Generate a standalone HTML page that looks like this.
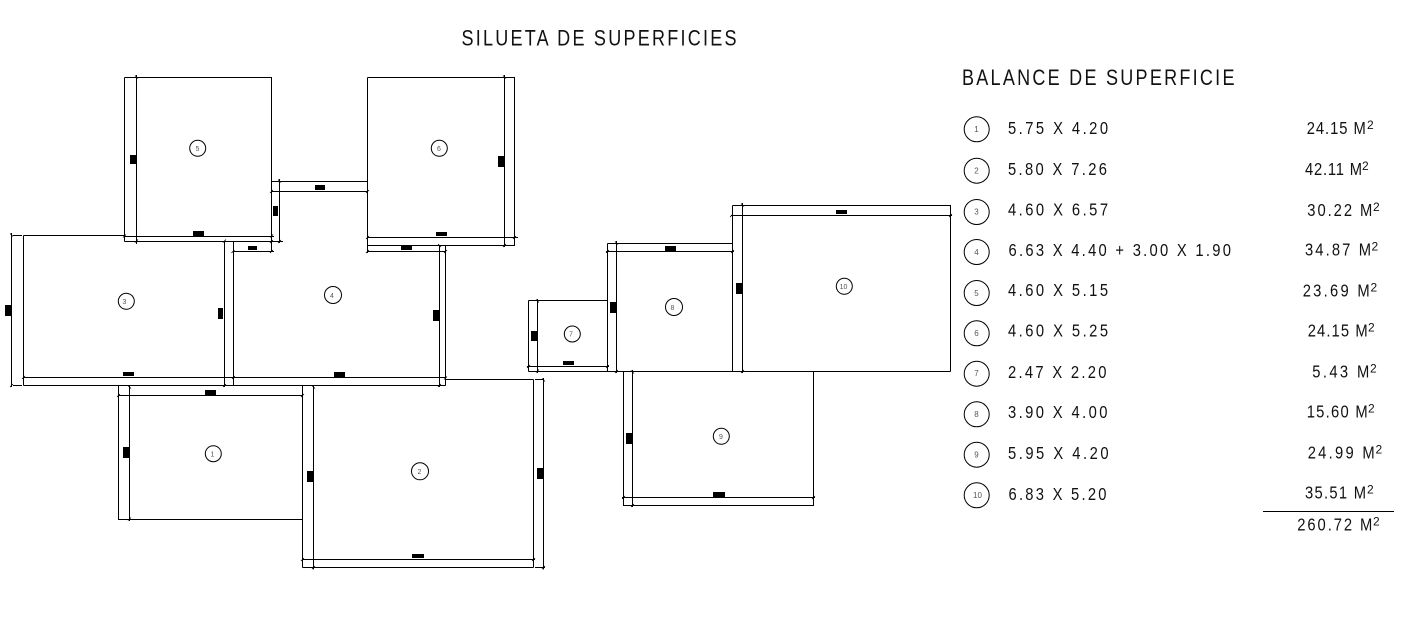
<!DOCTYPE html>
<html lang="es">
<head>
<meta charset="utf-8">
<title>Silueta de superficies</title>
<style>
html,body{margin:0;padding:0;background:#fff;width:1408px;height:625px;overflow:hidden}
svg{display:block}
.w{stroke:#000;stroke-width:1;fill:none;shape-rendering:crispEdges}
.t{stroke:#000;stroke-width:.8;fill:none}
.c{stroke:#000;stroke-width:1;fill:#fff}
.r{fill:#000;stroke:none;shape-rendering:crispEdges}
text{font-family:"Liberation Sans",sans-serif;fill:#111}
.h{font-size:22px}
.l{font-size:18px}
.s{font-size:12px}
.n{font-size:7px;text-anchor:middle;fill:#555}
.m{font-size:8px;text-anchor:middle;fill:#555}
</style>
</head>
<body>
<svg width="1408" height="625" viewBox="0 0 1408 625" xmlns="http://www.w3.org/2000/svg">
<rect width="1408" height="625" fill="#fff"/>

<path class="w" d="
M124.5 77.5H271.5V251.5 M124.5 77.5V241.5 M136.5 75V244
M124.5 236.5H274 M124.5 241.5H283
M271.5 181.5H367.5 M271.5 191.5H367.5 M279.5 179V243
M233 251.5H274
M367.5 77.5H514.5V245.5H367.5 M367.5 77.5V253 M504.5 75V247
M367.5 237.5H518 M367.5 251.5H445.5
M224.5 241.5V387 M233.5 241.5V385.5 M439.5 245.5V387 M445.5 245.5V385.5
M23.5 235.5H124.5 M23.5 235.5V385.5 M11.5 233V387 M13 235.5H22 M13 385.5H22
M23.5 377.5H445.5 M23.5 385.5H445.5
M118.5 385.5V519.5H302.5 M129.5 385.5V521 M118.5 395.5H302.5
M302.5 385.5V567.5 M313.5 385.5V569.5
M445.5 379.5H533.5 M535 379.5H543 M533.5 379.5V567.5 M543.5 378V569.5
M302.5 559.5H535 M302.5 567.5H533.5 M535 567.5H545
M528.5 300.5H607.5 M528.5 300.5V371.5 M537.5 299V373
M527 366.5H609 M528.5 371.5H607.5
M607.5 243.5H732.5 M607.5 243.5V371.5 M616.5 241V373 M606 251.5H734
M607.5 371.5H950.5
M732.5 205.5H950.5V371.5 M732.5 205.5V371.5 M742.5 203V373 M731 215.5H952
M623.5 371.5V505.5H813.5V371.5 M632.5 370V507 M622 497.5H815
M1263 511.5H1394"/>

<path class="t" d="
M135 75.500l3 3 M135 242.500l3 -3 M123 237.500l3 -3 M270 237.500l3 -3 M270 243l3 -3
M278 179.500l3 3 M278 243l3 -3 M270 193l3 -3 M366 193l3 -3
M231.500 253l3 -3 M270 253l3 -3 M223 242.500l3 -3
M366 239l3 -3 M366 253l3 -3 M503 75.500l3 3 M503 247l3 -3 M513 239l3 -3
M438 244l3 3 M444 253l3 -3 M444 379.500l3 -3 M438 387l3 -3
M10 233.500l3 3 M10 387l3 -3 M22 379l3 -3 M223 387l3 -3 M232 379l3 -3
M117 397l3 -3 M128 385.500l3 3 M128 520.500l3 -3 M301 397l3 -3 M312 385.500l3 3
M312 569l3 -3 M301 561l3 -3 M532 561l3 -3 M542 378.500l3 3 M542 569l3 -3
M527 368l3 -3 M536 299.500l3 3 M536 372.500l3 -3 M606 368l3 -3
M615 241.500l3 3 M606 253l3 -3 M731 253l3 -3 M615 373l3 -3 M741 203.500l3 3
M730 217l3 -3 M949 217l3 -3 M741 373l3 -3 M631 370.500l3 3
M622 499l3 -3 M812 499l3 -3 M631 507l3 -3"/>

<rect class="r" x="130" y="155" width="6.500" height="9"/>
<rect class="r" x="193" y="231" width="11" height="5"/>
<rect class="r" x="273" y="206" width="5" height="10"/>
<rect class="r" x="248" y="246" width="9" height="4"/>
<rect class="r" x="315" y="185" width="10" height="5"/>
<rect class="r" x="498" y="156" width="6.500" height="11"/>
<rect class="r" x="436" y="232" width="11" height="4"/>
<rect class="r" x="401" y="245.500" width="11" height="4.500"/>
<rect class="r" x="433" y="310" width="6.500" height="11"/>
<rect class="r" x="334" y="372" width="11" height="5"/>
<rect class="r" x="5" y="305" width="6.500" height="11"/>
<rect class="r" x="218" y="308" width="5" height="11"/>
<rect class="r" x="123" y="372" width="11" height="4"/>
<rect class="r" x="205" y="390" width="11" height="5"/>
<rect class="r" x="123" y="447" width="6.500" height="11"/>
<rect class="r" x="307" y="471" width="6.500" height="11"/>
<rect class="r" x="537" y="468" width="6.500" height="11"/>
<rect class="r" x="412" y="554" width="12" height="4"/>
<rect class="r" x="531" y="331" width="6.500" height="10"/>
<rect class="r" x="563" y="361" width="11" height="4"/>
<rect class="r" x="610" y="302" width="6.500" height="11"/>
<rect class="r" x="665" y="246" width="11" height="5"/>
<rect class="r" x="736" y="283" width="6.500" height="11"/>
<rect class="r" x="836" y="210" width="11" height="4"/>
<rect class="r" x="626" y="433" width="6.500" height="11"/>
<rect class="r" x="713" y="492" width="12" height="5"/>

<circle class="c" cx="197.700" cy="148.300" r="8"/><text class="n" x="197.500" y="151">5</text>
<circle class="c" cx="439.300" cy="148.300" r="8"/><text class="n" x="439" y="151">6</text>
<circle class="c" cx="126.300" cy="301.300" r="8"/><text class="n" x="124.500" y="304">3</text>
<circle class="c" cx="333" cy="295" r="8.500"/><text class="n" x="332" y="298">4</text>
<circle class="c" cx="213.300" cy="453.700" r="8"/><text class="n" x="212.500" y="456.500">1</text>
<circle class="c" cx="420" cy="471.300" r="8.500"/><text class="n" x="419.500" y="474">2</text>
<circle class="c" cx="572.300" cy="334" r="8"/><text class="n" x="571" y="336.500">7</text>
<circle class="c" cx="674" cy="307" r="8.500"/><text class="n" x="672.500" y="310">8</text>
<circle class="c" cx="844.300" cy="286.300" r="8"/><text class="n" x="843.500" y="289">10</text>
<circle class="c" cx="721.300" cy="436.300" r="8"/><text class="n" x="721" y="439">9</text>

<text class="h" transform="translate(461.500 45.500) scale(.82 1)" textLength="335.400" lengthAdjust="spacing">SILUETA DE SUPERFICIES</text>
<text class="h" transform="translate(962 85) scale(.82 1)" textLength="332.300" lengthAdjust="spacing">BALANCE DE SUPERFICIE</text>

<circle class="c" cx="976.700" cy="129.300" r="12.500"/><text class="m" x="976.500" y="132">1</text>
<circle class="c" cx="976.700" cy="170.700" r="12.500"/><text class="m" x="976.500" y="173.500">2</text>
<circle class="c" cx="976.700" cy="212" r="12.500"/><text class="m" x="976.500" y="214.500">3</text>
<circle class="c" cx="976.700" cy="252" r="12.500"/><text class="m" x="976.500" y="255">4</text>
<circle class="c" cx="976.700" cy="293" r="12.500"/><text class="m" x="976.500" y="296">5</text>
<circle class="c" cx="976.700" cy="333.300" r="12.500"/><text class="m" x="976.500" y="336">6</text>
<circle class="c" cx="976.700" cy="373.700" r="12.500"/><text class="m" x="976.500" y="376">7</text>
<circle class="c" cx="976.700" cy="414.300" r="12.500"/><text class="m" x="976.500" y="417">8</text>
<circle class="c" cx="976.700" cy="454.700" r="12.500"/><text class="m" x="976.500" y="457.500">9</text>
<circle class="c" cx="976.700" cy="495.300" r="12.500"/><text class="m" x="977.500" y="498">10</text>

<text class="l" transform="translate(1008 134) scale(.82 1)" textLength="122" lengthAdjust="spacing">5.75 X 4.20</text>
<text class="l" transform="translate(1008 175) scale(.82 1)" textLength="120.700" lengthAdjust="spacing">5.80 X 7.26</text>
<text class="l" transform="translate(1008 215.700) scale(.82 1)" textLength="122" lengthAdjust="spacing">4.60 X 6.57</text>
<text class="l" transform="translate(1008.500 256) scale(.82 1)" textLength="271.300" lengthAdjust="spacing">6.63 X 4.40 + 3.00 X 1.90</text>
<text class="l" transform="translate(1008 296) scale(.82 1)" textLength="122" lengthAdjust="spacing">4.60 X 5.15</text>
<text class="l" transform="translate(1008 336.700) scale(.82 1)" textLength="122" lengthAdjust="spacing">4.60 X 5.25</text>
<text class="l" transform="translate(1008 378) scale(.82 1)" textLength="120.100" lengthAdjust="spacing">2.47 X 2.20</text>
<text class="l" transform="translate(1008 418) scale(.82 1)" textLength="121.300" lengthAdjust="spacing">3.90 X 4.00</text>
<text class="l" transform="translate(1008 459) scale(.82 1)" textLength="122.600" lengthAdjust="spacing">5.95 X 4.20</text>
<text class="l" transform="translate(1008.500 500) scale(.82 1)" textLength="119.500" lengthAdjust="spacing">6.83 X 5.20</text>

<text class="l" transform="translate(1306.700 134) scale(.82 1)" textLength="72" lengthAdjust="spacing">24.15 M</text><text class="s" x="1367" y="129">2</text>
<text class="l" transform="translate(1305 175) scale(.82 1)" textLength="69.500" lengthAdjust="spacing">42.11 M</text><text class="s" x="1362" y="170">2</text>
<text class="l" transform="translate(1307.300 216) scale(.82 1)" textLength="79.300" lengthAdjust="spacing">30.22 M</text><text class="s" x="1373" y="211">2</text>
<text class="l" transform="translate(1305 255.700) scale(.82 1)" textLength="80.500" lengthAdjust="spacing">34.87 M</text><text class="s" x="1371.500" y="250.700">2</text>
<text class="l" transform="translate(1302.700 296.700) scale(.82 1)" textLength="81.700" lengthAdjust="spacing">23.69 M</text><text class="s" x="1370.500" y="291.700">2</text>
<text class="l" transform="translate(1307.700 336.700) scale(.82 1)" textLength="73.200" lengthAdjust="spacing">24.15 M</text><text class="s" x="1368" y="331.700">2</text>
<text class="l" transform="translate(1312.300 377.700) scale(.82 1)" textLength="69.500" lengthAdjust="spacing">5.43 M</text><text class="s" x="1370" y="372.700">2</text>
<text class="l" transform="translate(1306.700 417.300) scale(.82 1)" textLength="74.400" lengthAdjust="spacing">15.60 M</text><text class="s" x="1368" y="412.300">2</text>
<text class="l" transform="translate(1307.700 458.300) scale(.82 1)" textLength="81.700" lengthAdjust="spacing">24.99 M</text><text class="s" x="1375.500" y="453.300">2</text>
<text class="l" transform="translate(1305 498.300) scale(.82 1)" textLength="74.400" lengthAdjust="spacing">35.51 M</text><text class="s" x="1367" y="493.300">2</text>
<text class="l" transform="translate(1297.300 530.700) scale(.82 1)" textLength="91.500" lengthAdjust="spacing">260.72 M</text><text class="s" x="1373" y="525.700">2</text>
</svg>
</body>
</html>
